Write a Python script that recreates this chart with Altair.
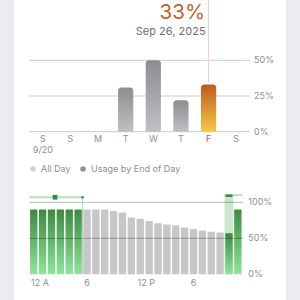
import altair as alt
import pandas as pd

# ---------------- data ----------------
day_keys = ["9/20", "9/21", "9/22", "9/23", "9/24", "9/25", "9/26", "9/27"]
day_letters = ["S", "S", "M", "T", "W", "T", "F", "S"]
day_sublabels = ["9/20", "", "", "", "", "", "", ""]
day_usage = [0, 0, 0, 31, 50, 22, 33, 0]
selected_day = "9/26"
selected_value_text = "33%"
selected_date_text = "Sep 26, 2025"
top_ticks = [0, 25, 50]
top_tick_labels = ["0%", "25%", "50%"]

hours = list(range(24))
hour_levels = [90, 90, 90, 90, 90, 90,
               90, 90, 90, 88, 86, 79, 77, 74, 71, 69, 68, 65, 63, 61, 59, 58,
               57, 90]
charging_hours = [0, 1, 2, 3, 4, 5, 22, 23]
hour_tick_hours = [0, 6, 12, 18]
hour_tick_labels = ["12 A", "6", "12 P", "6"]
bottom_ticks = [0, 50, 100]
bottom_tick_labels = ["0%", "50%", "100%"]
charge_seg_start = [0, 22]
charge_seg_end = [6, 24]
charge_seg_level = [107, 110]
charge_marker_hour = [2.9]
charge_marker_level = [107]
unplug_hour = [6]
plug_hour_start = [22]
plug_hour_end = [23]
legend_labels = ["All Day", "Usage by End of Day"]
legend_colors = ["#d1d1d6", "#8e8e93"]

# ---------------- styling ----------------
FONT = "Inter"
GREY_TXT = "#8e8e93"
ORANGE = "#c4622d"
FS = 9
TOP_X = [15, 236]
TOP_Y = [131.7, 60.3]
BOT_X = [15.3, 228.3]
BOT_Y = [274.3, 202.3]

days = pd.DataFrame({"day": day_keys, "letter": day_letters,
                     "sub": day_sublabels, "value": day_usage})
hourly = pd.DataFrame({"hour": hours, "level": hour_levels})
hourly["charging"] = hourly["hour"].isin(charging_hours)

xd = alt.X("day:N", scale=alt.Scale(domain=day_keys, range=TOP_X,
                                    paddingInner=0.45, paddingOuter=0.225), axis=None)
def yd(field):
    return alt.Y(field, scale=alt.Scale(domain=[0, 50], range=TOP_Y, nice=False), axis=None)

xh = alt.X("hour:O", scale=alt.Scale(domain=hours, range=BOT_X,
                                     paddingInner=0.17, paddingOuter=0.085), axis=None)
def xlin(field):
    return alt.X(field, scale=alt.Scale(domain=[0, 24], range=BOT_X, nice=False, zero=False), axis=None)
def yh(field):
    return alt.Y(field, scale=alt.Scale(domain=[0, 100], range=BOT_Y, nice=False), axis=None)

grey_grad = alt.Gradient(gradient="linear", x1=0, x2=0, y1=0, y2=1,
                         stops=[alt.GradientStop(color="#8c8c91", offset=0),
                                alt.GradientStop(color="#c0c0c4", offset=1)])
orange_grad = alt.Gradient(gradient="linear", x1=0, x2=0, y1=0, y2=1,
                           stops=[alt.GradientStop(color="#bd5a22", offset=0),
                                  alt.GradientStop(color="#f6c845", offset=1)])
green_grad = alt.Gradient(gradient="linear", x1=0, x2=0, y1=0, y2=1,
                          stops=[alt.GradientStop(color="#3b8a3f", offset=0),
                                 alt.GradientStop(color="#90e49c", offset=1)])

# ---------------- top chart ----------------
top_grid = alt.Chart(pd.DataFrame({"t": top_ticks, "lab": top_tick_labels})).mark_rule(
    color="#cbcbcf", strokeWidth=1).encode(
    y=yd("t:Q"), x=alt.value(TOP_X[0]), x2=alt.value(TOP_X[1]))
top_tick_txt = alt.Chart(pd.DataFrame({"t": top_ticks, "lab": top_tick_labels})).mark_text(
    align="left", baseline="middle", font=FONT, fontSize=FS, color=GREY_TXT).encode(
    y=yd("t:Q"), x=alt.value(240), text="lab:N")

sel = days[days["day"] == selected_day]
others = days[days["day"] != selected_day]
sel_rule = alt.Chart(sel).mark_rule(color="#f2cdb8", strokeWidth=1, yOffset=-2).encode(
    x=xd, y=yd("value:Q"), y2=alt.value(0))
grey_bars = alt.Chart(others[others["value"] > 0]).mark_bar(
    color=grey_grad, cornerRadiusTopLeft=3, cornerRadiusTopRight=3).encode(
    x=xd, y=yd("value:Q"), y2=alt.datum(0))
sel_bar = alt.Chart(sel).mark_bar(
    color=orange_grad, cornerRadiusTopLeft=3, cornerRadiusTopRight=3).encode(
    x=xd, y=yd("value:Q"), y2=alt.datum(0))
day_txt = alt.Chart(others).mark_text(
    baseline="middle", font=FONT, fontSize=FS, color=GREY_TXT).encode(
    x=xd, y=alt.value(139.3), text="letter:N")
sel_day_txt = alt.Chart(sel).mark_text(
    baseline="middle", font=FONT, fontSize=FS, color=ORANGE).encode(
    x=xd, y=alt.value(139.3), text="letter:N")
sub_txt = alt.Chart(days[days["sub"] != ""]).mark_text(
    baseline="middle", font=FONT, fontSize=FS, color=GREY_TXT).encode(
    x=xd, y=alt.value(150.3), text="sub:N")
big_pct = alt.Chart(sel.assign(lab=selected_value_text)).mark_text(
    align="right", baseline="middle", font=FONT, fontSize=20.5, color=ORANGE, dx=-3.5).encode(
    x=xd, y=alt.value(12.7), text="lab:N")
date_txt = alt.Chart(sel.assign(lab=selected_date_text)).mark_text(
    align="right", baseline="middle", font=FONT, fontSize=11, color="#6e6e73", dx=-3).encode(
    x=xd, y=alt.value(32.3), text="lab:N")

legend_layer = alt.Chart(pd.DataFrame({"lab": legend_labels})).mark_circle(opacity=0).encode(
    x=alt.value(0), y=alt.value(0),
    color=alt.Color("lab:N", scale=alt.Scale(domain=legend_labels, range=legend_colors),
                    legend=alt.Legend(orient="none", legendX=14.5, legendY=164.3,
                                      direction="horizontal", title=None,
                                      symbolType="circle", symbolSize=30, symbolOpacity=1,
                                      symbolStrokeWidth=0, labelFont=FONT, labelFontSize=FS,
                                      labelColor=GREY_TXT, labelOffset=3.5, columnPadding=7,
                                      padding=0)))

# ---------------- bottom chart ----------------
plug_rect = alt.Chart(pd.DataFrame({"s": plug_hour_start, "e": plug_hour_end})).mark_rect(
    color="#cbe7cd").encode(
    x=xlin("s:Q"), x2="e:Q", y=yh("top:Q"), y2=alt.datum(0)).transform_calculate(top="110")
hour_bars_grey = alt.Chart(hourly[~hourly["charging"]]).mark_bar(
    color="#c7c7c9", cornerRadiusTopLeft=1, cornerRadiusTopRight=1).encode(
    x=xh, y=yh("level:Q"), y2=alt.datum(0))
hour_bars_green = alt.Chart(hourly[hourly["charging"]]).mark_bar(
    color=green_grad, cornerRadiusTopLeft=1, cornerRadiusTopRight=1).encode(
    x=xh, y=yh("level:Q"), y2=alt.datum(0))
bot_grid = alt.Chart(pd.DataFrame({"t": [50, 100]})).mark_rule(
    color="#000000", opacity=0.28, strokeWidth=1).encode(
    y=yh("t:Q"), x=alt.value(BOT_X[0]), x2=alt.value(BOT_X[1] + 0.7))
bot_tick_txt = alt.Chart(pd.DataFrame({"t": bottom_ticks, "lab": bottom_tick_labels})).mark_text(
    align="left", baseline="middle", font=FONT, fontSize=FS, color=GREY_TXT).encode(
    y=yh("t:Q"), x=alt.value(234.3), text="lab:N")
hour_txt = alt.Chart(pd.DataFrame({"hour": hour_tick_hours, "lab": hour_tick_labels})).mark_text(
    align="left", baseline="middle", font=FONT, fontSize=FS, color=GREY_TXT, dx=-2.7).encode(
    x=xh, y=alt.value(282.7), text="lab:N")

charge_lines = alt.Chart(pd.DataFrame({"s": charge_seg_start, "e": charge_seg_end,
                                       "lv": charge_seg_level})).mark_rule(
    color="#b9dfbc", strokeWidth=2).encode(
    x=xlin("s:Q"), x2="e:Q", y=yh("lv:Q"))
unplug_rule = alt.Chart(pd.DataFrame({"h": unplug_hour, "lv": charge_marker_level})).mark_rule(
    color="#a9d9ad", strokeWidth=1).encode(
    x=xlin("h:Q"), y=yh("lv:Q"), y2=alt.datum(0))
unplug_dot = alt.Chart(pd.DataFrame({"h": unplug_hour, "lv": charge_marker_level})).mark_point(
    shape="circle", filled=True, size=6, color="#3b8a3f", opacity=1).encode(
    x=xlin("h:Q"), y=yh("lv:Q"))
charge_marker = alt.Chart(pd.DataFrame({"h": charge_marker_hour, "lv": charge_marker_level})).mark_point(
    shape="square", filled=True, size=22, color="#3b8a3f", opacity=1).encode(
    x=xlin("h:Q"), y=yh("lv:Q"))
plug_cap = alt.Chart(pd.DataFrame({"hour": [22], "lo": [107.5], "hi": [111]})).mark_bar(
    color="#3b8a3f", cornerRadius=1.5).encode(
    x=xh, y=yh("lo:Q"), y2="hi:Q")

chart = alt.layer(
    top_grid, sel_rule, grey_bars, sel_bar, top_tick_txt, day_txt, sel_day_txt, sub_txt,
    big_pct, date_txt, legend_layer,
    plug_rect, hour_bars_grey, hour_bars_green, bot_grid, bot_tick_txt, hour_txt,
    charge_lines, unplug_rule, unplug_dot, charge_marker, plug_cap,
).resolve_scale(x="independent", y="independent", color="independent").properties(
    width=272, height=300,
    padding={"left": 14, "right": 14, "top": 0, "bottom": 0},
    autosize=alt.AutoSizeParams(type="none"),
    background="#ebebf0",
).configure_view(fill="white", stroke=None, clip=False)

chart.save("out.html", embed_options={"renderer": "svg", "actions": False})
